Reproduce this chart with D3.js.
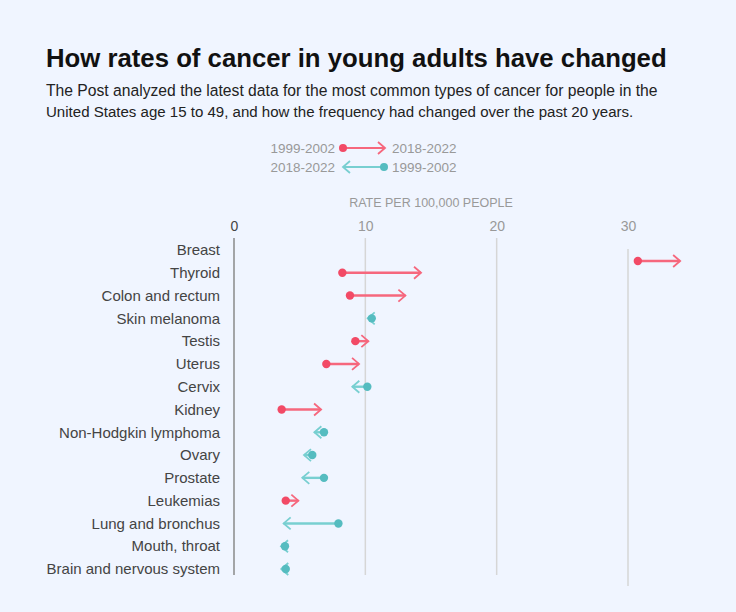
<!DOCTYPE html>
<html><head><meta charset="utf-8">
<script src="https://cdn.jsdelivr.net/npm/d3@7"></script>
<style>
html,body{margin:0;padding:0;background:#f0f5ff;}
svg{display:block;}
</style></head>
<body>
<svg id="chart" width="736" height="612"></svg>
<script>
const categories = ["Breast","Thyroid","Colon and rectum","Skin melanoma","Testis","Uterus","Cervix","Kidney","Non-Hodgkin lymphoma","Ovary","Prostate","Leukemias","Lung and bronchus","Mouth, throat","Brain and nervous system"];
const rate1999 = [30.75, 8.25, 8.83, 10.49, 9.24, 7.03, 10.15, 3.63, 6.85, 5.96, 6.85, 3.94, 7.95, 3.88, 3.94];
const rate2018 = [33.97, 14.24, 13.05, 10.18, 10.23, 9.52, 9.01, 6.63, 6.12, 5.33, 5.2, 4.9, 3.78, 3.58, 3.6];
const tickValues = [0, 10, 20, 30];
const titleText = "How rates of cancer in young adults have changed";
const subtitleLines = ["The Post analyzed the latest data for the most common types of cancer for people in the","United States age 15 to 49, and how the frequency had changed over the past 20 years."];
const legendRows = [["1999-2002","2018-2022"],["2018-2022","1999-2002"]];
const axisTitle = "RATE PER 100,000 PEOPLE";

const RED = "#f24a66", RED_L = "#f6677d", TEAL = "#55bcc0", TEAL_L = "#78cfd1";
const svg = d3.select("#chart");
const font = "'Liberation Sans', Arial, sans-serif";

function fit(sel, w){ const n=sel.node(); const cur=n.getComputedTextLength(); const fs=parseFloat(sel.attr("font-size")); sel.attr("font-size", fs*w/cur); }

const t = svg.append("text").attr("x",46).attr("y",67).attr("font-family","'Liberation Sans Narrow','Liberation Sans',sans-serif").attr("font-weight","bold").attr("font-size",27).attr("fill","#111").text(titleText);
fit(t, 621);
subtitleLines.forEach((s,i)=>{
  const st = svg.append("text").attr("x",46).attr("y",96+i*21).attr("font-family","'Liberation Sans Narrow','Liberation Sans',sans-serif").attr("font-size",17).attr("fill","#222").text(s);
  fit(st, i===0?612:588);
});

// legend
const lg = svg.append("g").attr("font-family",font).attr("font-size",13.5).attr("fill","#999");
[[148,RED,RED_L,1],[167,TEAL,TEAL_L,-1]].forEach(([y,c,cl,dir],i)=>{
  const x0 = dir>0?343:384, x1 = dir>0?385:343;
  lg.append("line").attr("x1",x0).attr("x2",x1).attr("y1",y).attr("y2",y).attr("stroke",cl).attr("stroke-width",2.2);
  lg.append("path").attr("d",`M${x1-7*dir},${y-6}L${x1},${y}L${x1-7*dir},${y+6}`).attr("fill","none").attr("stroke",cl).attr("stroke-width",1.8);
  lg.append("circle").attr("cx",x0).attr("cy",y).attr("r",4).attr("fill",c);
  lg.append("text").attr("x",335).attr("y",y).attr("dy","0.35em").attr("text-anchor","end").text(legendRows[i][0]);
  lg.append("text").attr("x",392).attr("y",y).attr("dy","0.35em").text(legendRows[i][1]);
});

const x = d3.scaleLinear().domain([0,30]).range([234,628]);
const y = d3.scalePoint().domain(categories).range([250,569]);
const breakOffset = 11; // breast row & 30 gridline shifted down

svg.append("text").attr("x",431).attr("y",207).attr("text-anchor","middle").attr("font-family",font).attr("font-size",12.5).attr("fill","#999").text(axisTitle);

const axis = d3.axisTop(x).tickValues(tickValues).tickSize(0).tickFormat(d3.format("d"));
const ag = svg.append("g").attr("transform","translate(0,226)").call(axis);
ag.select(".domain").remove();
ag.selectAll("text").attr("font-family",font).attr("font-size",14).attr("fill",d=>d===0?"#444":"#999").attr("dy","0.35em").attr("y",0);

svg.append("g").selectAll("line").data(tickValues).join("line")
  .attr("x1",d=>x(d)).attr("x2",d=>x(d))
  .attr("y1",d=>d===30?238+breakOffset:238).attr("y2",d=>d===30?575+breakOffset:575)
  .attr("stroke",d=>d===0?"#8a8a8a":"#d6d6d6").attr("stroke-width",1.5);

// labels
svg.append("g").selectAll("text").data(categories).join("text")
  .attr("x",220).attr("y",d=>y(d)).attr("dy","0.35em").attr("text-anchor","end")
  .attr("font-family",font).attr("font-size",15).attr("fill","#444").text(d=>d);

const rows = categories.map((c,i)=>({c, a:rate1999[i], b:rate2018[i], yy:y(c)+(i===0?breakOffset:0)}));
const mg = svg.append("g").selectAll("g").data(rows).join("g");
mg.each(function(d){
  const g=d3.select(this); const up=d.b>=d.a; const c=up?RED:TEAL, cl=up?RED_L:TEAL_L; const dir=up?1:-1;
  const x0=x(d.a), x1=x(d.b);
  g.append("line").attr("x1",x0).attr("x2",x1).attr("y1",d.yy).attr("y2",d.yy).attr("stroke",cl).attr("stroke-width",2.4);
  g.append("path").attr("d",`M${x1-7*dir},${d.yy-6}L${x1},${d.yy}L${x1-7*dir},${d.yy+6}`).attr("fill","none").attr("stroke",cl).attr("stroke-width",1.8);
  g.append("circle").attr("cx",x0).attr("cy",d.yy).attr("r",4.2).attr("fill",c);
});
</script>
</body></html>
